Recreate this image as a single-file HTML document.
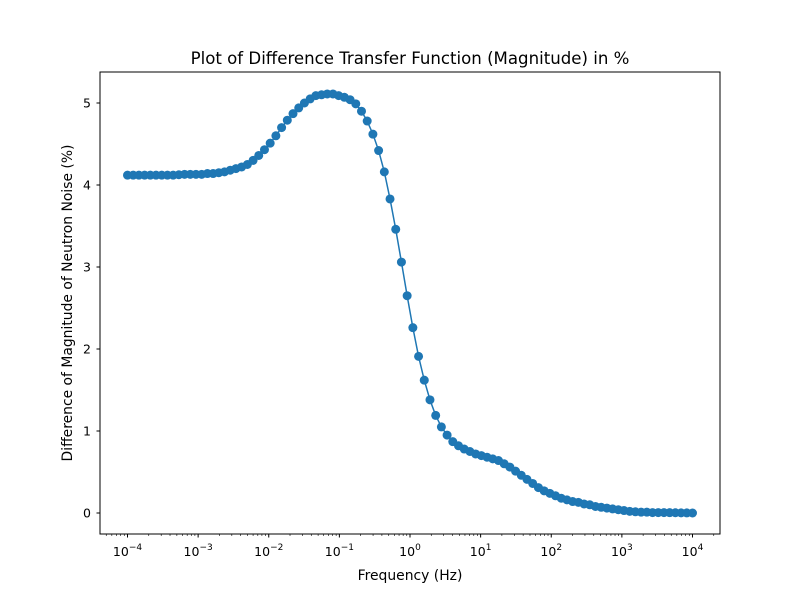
<!DOCTYPE html>
<html><head><meta charset="utf-8"><style>
body{margin:0;background:#fff;}
svg text{font-family:"DejaVu Sans","Liberation Sans",sans-serif;fill:#000;}
</style></head><body>
<svg id="chart" width="800" height="600" viewBox="0 0 800 600">
<text x="410" y="64" font-size="16.6" text-anchor="middle">Plot of Difference Transfer Function (Magnitude) in %</text>
<text x="410" y="580" font-size="13.9" text-anchor="middle">Frequency (Hz)</text>
<text transform="translate(72,303) rotate(-90)" font-size="13.9" text-anchor="middle">Difference of Magnitude of Neutron Noise (%)</text>
<g id="ticks"></g>
<g id="series"></g>
<rect x="100" y="72" width="620" height="462" fill="none" stroke="#000" stroke-width="1"/>
</svg>
<script>
const xDecades = [-4,-3,-2,-1,0,1,2,3,4];
const yTicks = [0,1,2,3,4,5];
const values = [4.12,4.12,4.12,4.12,4.12,4.12,4.12,4.12,4.12,4.125,4.13,4.13,4.13,4.13,4.14,4.14,4.15,4.16,4.18,4.20,
4.22,4.25,4.30,4.36,4.43,4.51,4.60,4.70,4.79,4.87,4.94,5.00,5.05,5.09,5.10,5.11,5.11,5.09,5.07,5.04,
4.99,4.90,4.78,4.62,4.42,4.16,3.83,3.46,3.06,2.65,2.26,1.91,1.62,1.38,1.19,1.05,0.95,0.87,0.82,0.78,
0.75,0.72,0.70,0.68,0.66,0.64,0.60,0.56,0.51,0.46,0.41,0.36,0.31,0.27,0.24,0.21,0.18,0.16,0.14,0.13,
0.11,0.10,0.08,0.07,0.06,0.05,0.04,0.03,0.02,0.015,0.01,0.01,0.005,0.005,0.005,0.004,0.003,0.002,0.001,0];
const NS="http://www.w3.org/2000/svg";
const xMinLog=-4, xMaxLog=4, xL=127.5, xR=692.5;
function xs(f){return xL+(Math.log10(f)-xMinLog)/(xMaxLog-xMinLog)*(xR-xL);}
function ys(v){return 513-v*82;}
function mk(tag,attrs,parent){const e=document.createElementNS(NS,tag);for(const k in attrs)e.setAttribute(k,attrs[k]);parent.appendChild(e);return e;}
const tg=document.getElementById('ticks');
xDecades.forEach(d=>{
  const x=xs(Math.pow(10,d));
  const t=mk('line',{x1:x,x2:x,y1:534,y2:537.5,stroke:'#000'},tg);
  
  
  const lb=mk('text',{x:x,y:556,'font-size':'12.5','text-anchor':'middle'},tg);
  
  
  lb.innerHTML='10<tspan dy="-6" font-size="9">'+(d<0?'−'+(-d):d)+'</tspan>';
});
for(let d=-5;d<=4;d++){for(let m=2;m<=9;m++){const f=m*Math.pow(10,d);const x=xs(f);if(x<100||x>720)continue;
  const t=mk('line',{x1:x,x2:x,y1:534,y2:536,stroke:'#000','stroke-width':0.6},tg);
  
  
}}
yTicks.forEach(v=>{
  const y=ys(v);
  const t=mk('line',{x1:96.5,x2:100,y1:y,y2:y,stroke:'#000'},tg);
  
  
  const lb=mk('text',{x:91,y:y+4.5,'font-size':'12.5','text-anchor':'end'},tg);
  
  
  lb.textContent=v;
});
const sg=document.getElementById('series');
const n=values.length;
const pts=values.map((v,i)=>[xs(Math.pow(10,xMinLog+(xMaxLog-xMinLog)*i/(n-1))),ys(v)]);
const line=mk('polyline',{points:pts.map(p=>p.join(',')).join(' '),fill:'none',stroke:'#1f77b4','stroke-width':1.5},sg);


pts.forEach(p=>{
  const c=mk('circle',{cx:p[0],cy:p[1],r:4.5,fill:'#1f77b4'},sg);
  
  
});
</script>
</body></html>
